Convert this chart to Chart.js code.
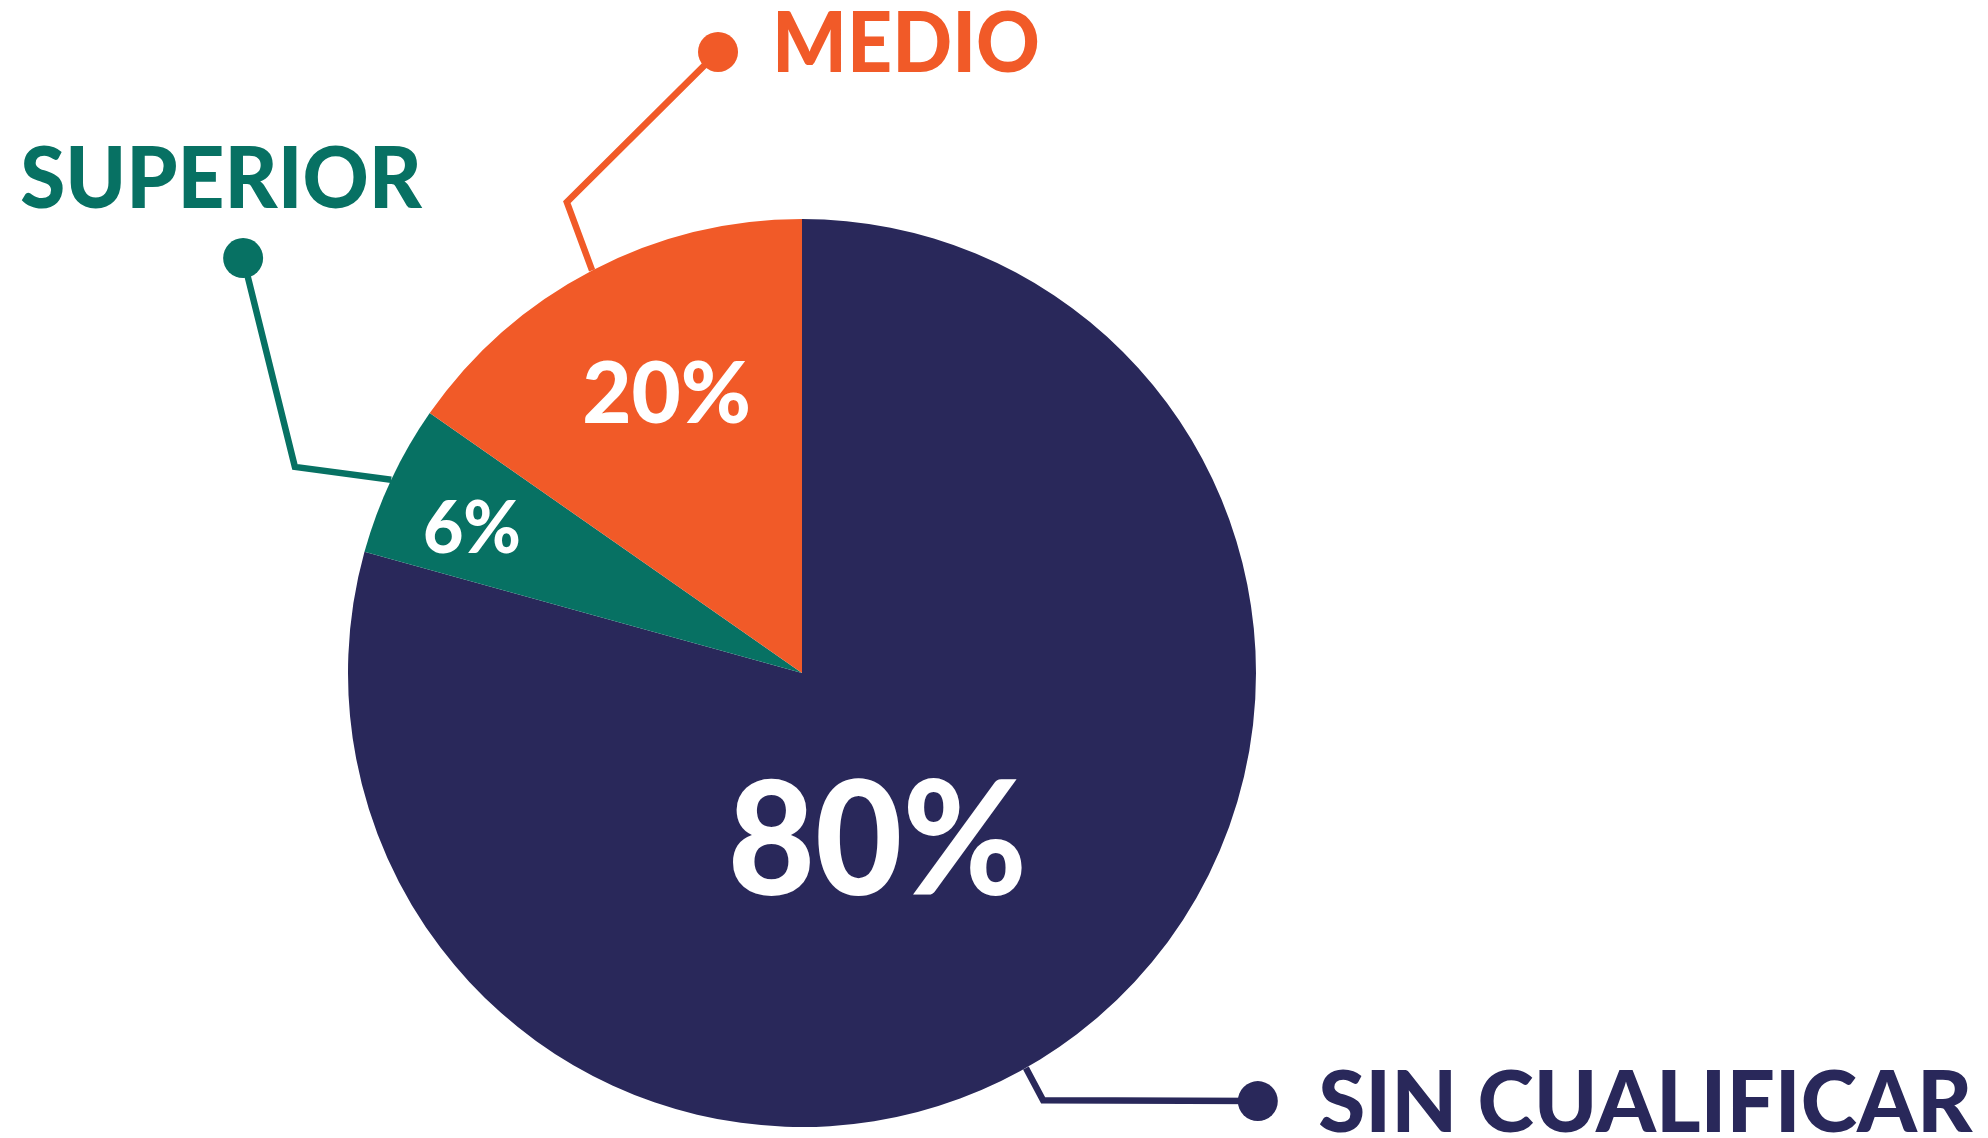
<!DOCTYPE html>
<html>
<head>
<meta charset="utf-8">
<script src="https://cdn.jsdelivr.net/npm/chart.js@4/dist/chart.umd.min.js"></script>
<style>
    html, body { margin: 0; padding: 0; background: #ffffff; }
    #wrap { width: 1988px; height: 1138px; position: relative; }
</style>
</head>
<body>
<div id="wrap"><canvas id="nivelGrafigi"></canvas></div>
<script>
// slices clockwise from 12 o'clock
const categories = ['SIN CUALIFICAR', 'SUPERIOR', 'MEDIO'];
const sliceShares = [79.3, 5.4, 15.3];
const shareLabels = ['80%', '6%', '20%'];
const sliceColors = ['#29285a', '#077163', '#f15a28'];

document.addEventListener('DOMContentLoaded', function () {
    const fontFamily = 'Lato, "Open Sans", sans-serif';

    // leader geometry in units of the pie radius, relative to the pie centre
    const leaders = [
        { anchorAt: 0.527, elbow: [0.531, 0.941], dot: [1.004, 0.943], text: [1.137, 1.010], size: 86, width: 1.441 },
        { anchorAt: 0.5, elbow: [-1.117, -0.454], dot: [-1.231, -0.914], text: [-1.722, -1.024], size: 86, width: 0.885 },
        { anchorAt: 0.5, elbow: [-0.518, -1.037], dot: [-0.185, -1.368], text: [-0.066, -1.324], size: 84, width: 0.590 }
    ];
    const valueLabels = [
        { pos: [0.166, 0.489], size: 158, width: 0.659 },
        { pos: [-0.727, -0.264], size: 72, width: 0.216 },
        { pos: [-0.298, -0.551], size: 86, width: 0.372 }
    ];

    // draws text squeezed to a given width, x is the left edge
    function fitText(ctx, text, x, y, width) {
        const w = ctx.measureText(text).width;
        ctx.save();
        ctx.translate(x, y);
        ctx.scale(width / w, 1);
        ctx.textAlign = 'left';
        ctx.fillText(text, 0, 0);
        ctx.restore();
    }

    const leaderPlugin = {
        id: 'leaderPlugin',
        afterDatasetsDraw(chart) {
            const ctx = chart.ctx;
            const meta = chart.getDatasetMeta(0);
            meta.data.forEach(function (arc, i) {
                const cx = arc.x, cy = arc.y, r = arc.outerRadius;
                const color = sliceColors[i];
                const lay = leaders[i];
                const a = arc.startAngle + (arc.endAngle - arc.startAngle) * lay.anchorAt;
                const sx = cx + Math.cos(a) * r;
                const sy = cy + Math.sin(a) * r;
                const ex = cx + lay.elbow[0] * r, ey = cy + lay.elbow[1] * r;
                const dx = cx + lay.dot[0] * r, dy = cy + lay.dot[1] * r;

                ctx.save();
                ctx.strokeStyle = color;
                ctx.lineWidth = 6.5;
                ctx.lineJoin = 'miter';
                ctx.beginPath();
                ctx.moveTo(sx, sy);
                ctx.lineTo(ex, ey);
                ctx.lineTo(dx, dy);
                ctx.stroke();
                ctx.fillStyle = color;
                ctx.beginPath();
                ctx.arc(dx, dy, 20, 0, Math.PI * 2);
                ctx.fill();

                ctx.textBaseline = 'alphabetic';
                ctx.font = '900 ' + lay.size + 'px ' + fontFamily;
                fitText(ctx, categories[i], cx + lay.text[0] * r, cy + lay.text[1] * r, lay.width * r);

                const v = valueLabels[i];
                ctx.fillStyle = '#ffffff';
                ctx.font = '900 ' + v.size + 'px ' + fontFamily;
                fitText(ctx, shareLabels[i], cx + (v.pos[0] - v.width / 2) * r, cy + v.pos[1] * r, v.width * r);
                ctx.restore();
            });
        }
    };

    const nivelCtx = document.getElementById('nivelGrafigi').getContext('2d');
    new Chart(nivelCtx, {
        type: 'pie',
        data: {
            labels: categories,
            datasets: [{
                data: sliceShares,
                backgroundColor: sliceColors,
                borderWidth: 0,
                hoverOffset: 0
            }]
        },
        options: {
            responsive: true,
            maintainAspectRatio: false,
            animation: false,
            layout: { padding: { top: 219, bottom: 11, left: 348, right: 732 } },
            plugins: {
                legend: { display: false },
                tooltip: { enabled: false }
            }
        },
        plugins: [leaderPlugin]
    });
});
</script>
</body>
</html>
